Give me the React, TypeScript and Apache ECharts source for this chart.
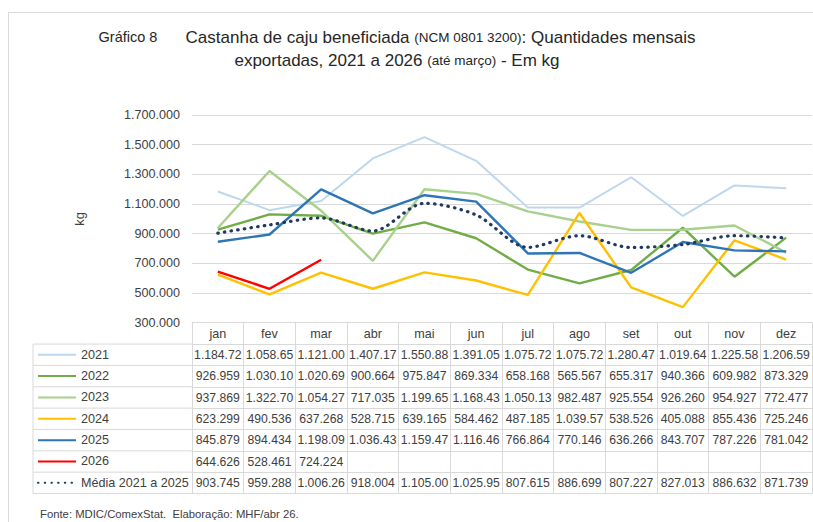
import React, { useEffect, useRef } from "react";
import * as echarts from "echarts";

const months = ["jan", "fev", "mar", "abr", "mai", "jun", "jul", "ago", "set", "out", "nov", "dez"];
const yTicks = [300000, 500000, 700000, 900000, 1100000, 1300000, 1500000, 1700000];

const v2021 = [1184720, 1058650, 1121000, 1407170, 1550880, 1391050, 1075720, 1075720, 1280470, 1019640, 1225580, 1206590];
const v2022 = [926959, 1030100, 1020690, 900664, 975847, 869334, 658168, 565567, 655317, 940366, 609982, 873329];
const v2023 = [937869, 1322700, 1054270, 717035, 1199650, 1168430, 1050130, 982487, 925554, 926260, 954927, 772477];
const v2024 = [623299, 490536, 637268, 528715, 639165, 584462, 487185, 1039570, 538526, 405088, 855436, 725246];
const v2025 = [845879, 894434, 1198090, 1036430, 1159470, 1116460, 766864, 770146, 636266, 843707, 787226, 781042];
const v2026 = [644626, 528461, 724224];
const vMedia = [903745, 959288, 1006260, 918004, 1105000, 1025950, 807615, 886699, 807227, 827013, 886632, 871739];

const seriesNames = ["2021", "2022", "2023", "2024", "2025", "2026", "Média 2021 a 2025"];
const seriesValues = [v2021, v2022, v2023, v2024, v2025, v2026, vMedia];
const seriesColors = ["#bdd7ee", "#70ad47", "#a9d18e", "#ffc000", "#2e75b6", "#ff0000", "#1f3864"];

const FONT = "'Liberation Sans', Arial, sans-serif";
const TXT = "#404040";
const TITLE = "#262626";
const GRID = "#d9d9d9";

const fmt = (n: number) => String(n).replace(/\B(?=(\d{3})+(?!\d))/g, ".");
const cell = (n: number | undefined) => (n === undefined ? "" : fmt(n).slice(0, 8));

export default function App() {
  const ref = useRef<HTMLDivElement>(null);
  useEffect(() => {
    if (!ref.current) return;
    const chart = echarts.init(ref.current, undefined, { renderer: "svg" });

    const W = 813, H = 522;
    const gridLeft = 192, gridTop = 115, gridRight = 1;
    const axisY = 322.7;
    const rowH = 21.35;
    const nRows = seriesNames.length;
    const labelColLeft = 33;
    const tableFont = 12.2;
    const labelFont = 12.6;

    const rowAxes: any[] = [];
    for (let k = 0; k <= nRows; k++) {
      const vals = k < nRows ? seriesValues[k] : [];
      rowAxes.push({
        type: "category",
        gridIndex: 0,
        position: "bottom",
        offset: rowH * (k + 1),
        data: months.map((_, i) => (k < nRows ? cell(vals[i]) : "")),
        boundaryGap: true,
        axisLine: { show: true, lineStyle: { color: GRID, width: 1 } },
        axisTick: { show: false },
        axisLabel: { show: k < nRows, interval: 0, margin: 4, color: TXT, fontSize: tableFont, fontFamily: FONT, lineHeight: 14 },
        splitLine: { show: false },
      });
    }

    const graphics: any[] = [
      { type: "line", shape: { x1: 8, y1: 12.5, x2: W, y2: 12.5 }, style: { stroke: GRID, lineWidth: 1 } },
      { type: "line", shape: { x1: 8.5, y1: 12, x2: 8.5, y2: H }, style: { stroke: GRID, lineWidth: 1 } },
      { type: "line", shape: { x1: labelColLeft, y1: axisY + rowH, x2: labelColLeft, y2: axisY + rowH * (nRows + 1) }, style: { stroke: GRID, lineWidth: 1 } },
    ];
    for (let k = 0; k <= nRows; k++) {
      const y = axisY + rowH * (k + 1);
      graphics.push({ type: "line", shape: { x1: labelColLeft, y1: y, x2: gridLeft, y2: y }, style: { stroke: GRID, lineWidth: 1 } });
    }

    const series = seriesNames.map((name, i) => {
      const isMedia = i === nRows - 1;
      return {
        name,
        type: "line",
        xAxisIndex: 0,
        data: seriesValues[i],
        symbol: "none",
        smooth: isMedia ? 0.3 : false,
        z: isMedia ? 5 : 2,
        lineStyle: isMedia
          ? { color: seriesColors[i], width: 3.2, type: [0.5, 6.2], cap: "round" }
          : { color: seriesColors[i], width: i === 0 ? 2 : 2.4 },
        itemStyle: { color: seriesColors[i] },
      };
    });

    const titleRich = {
      a: { fontSize: 14.5, color: TITLE, fontFamily: FONT, lineHeight: 22 },
      sp: { fontSize: 14.5, fontFamily: FONT, lineHeight: 22 },
      b: { fontSize: 17, color: TITLE, fontFamily: FONT, lineHeight: 22 },
      c: { fontSize: 13.5, color: TITLE, fontFamily: FONT, lineHeight: 22 },
    };

    chart.setOption({
      animation: false,
      backgroundColor: "#ffffff",
      title: [
        {
          left: 397,
          top: 26,
          padding: 0,
          textAlign: "center",
          text: "{a|Gráfico 8}{sp|       }{b|Castanha de caju beneficiada }{c|(NCM 0801 3200)}{b|: Quantidades mensais}",
          textStyle: { fontWeight: "normal", rich: titleRich },
        },
        {
          left: 397,
          top: 49,
          padding: 0,
          textAlign: "center",
          text: "{b|exportadas, 2021 a 2026 }{c|(até março)}{b| - Em kg}",
          textStyle: { fontWeight: "normal", rich: titleRich },
        },
        {
          left: 40,
          top: 507,
          padding: 0,
          text: "Fonte: MDIC/ComexStat.  Elaboração: MHF/abr 26.",
          textStyle: { fontSize: 11.3, fontWeight: "normal", color: TXT, fontFamily: FONT, lineHeight: 14 },
        },
      ],
      legend: {
        orient: "vertical",
        left: 37,
        top: axisY + rowH + rowH / 2 - 8,
        padding: 0,
        itemWidth: 38,
        itemHeight: 16,
        itemGap: rowH - 16,
        data: seriesNames,
        itemStyle: { opacity: 0 },
        textStyle: { fontSize: labelFont, color: TXT, fontFamily: FONT, lineHeight: 16 },
        selectedMode: false,
      },
      grid: { left: gridLeft, right: gridRight, top: gridTop, bottom: H - axisY, containLabel: false },
      xAxis: [
        {
          type: "category",
          gridIndex: 0,
          position: "bottom",
          data: months,
          boundaryGap: true,
          axisLine: { show: true, lineStyle: { color: GRID, width: 1 } },
          axisTick: { show: true, interval: 0, length: rowH * (nRows + 1), lineStyle: { color: GRID, width: 1 } },
          axisLabel: { interval: 0, margin: 4, color: TXT, fontSize: labelFont, fontFamily: FONT, lineHeight: 14 },
        },
        ...rowAxes,
      ],
      yAxis: {
        type: "value",
        min: yTicks[0],
        max: yTicks[yTicks.length - 1],
        interval: yTicks[1] - yTicks[0],
        name: "kg",
        nameLocation: "middle",
        nameRotate: 90,
        nameGap: 106,
        nameTextStyle: { fontSize: 13, color: TXT, fontFamily: FONT },
        axisLine: { show: false },
        axisTick: { show: false },
        axisLabel: { color: TXT, fontSize: labelFont, margin: 12, fontFamily: FONT, formatter: (v: number) => fmt(v) },
        splitLine: { lineStyle: { color: GRID, width: 1 } },
      },
      graphic: graphics,
      series,
    });
    return () => chart.dispose();
  }, []);
  return <div ref={ref} style={{ position: "fixed", left: 0, top: 0, width: 813, height: 522 }} />;
}
